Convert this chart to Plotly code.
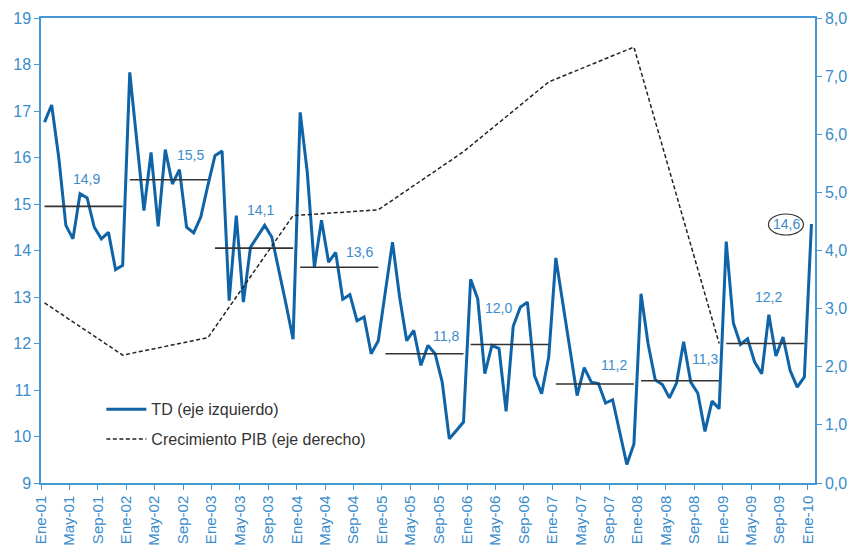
import plotly.graph_objects as go

# ---------------- data ----------------
# Monthly unemployment rate (TD), Ene-01 .. Ene-10
td = [16.76, 17.13, 16.0, 14.54, 14.25, 15.22, 15.13, 14.50, 14.25, 14.39, 13.59, 13.68,
      17.83, 16.3, 14.86, 16.11, 14.52, 16.17, 15.43, 15.74, 14.50, 14.38, 14.72, 15.40,
      16.04, 16.14, 12.92, 14.75, 12.89, 14.07, 14.32, 14.54, 14.29, 13.6, 12.85, 12.09,
      16.97, 15.68, 13.64, 14.65, 13.75, 13.96, 12.95, 13.05, 12.49, 12.57, 11.78, 12.06,
      13.12, 14.18, 13.0, 12.06, 12.28, 11.53, 11.96, 11.78, 11.17, 9.95, 10.13, 10.31,
      13.38, 12.96, 11.35, 11.96, 11.89, 10.54, 12.37, 12.78, 12.89, 11.31, 10.92, 11.71,
      13.84, 12.85, 11.85, 10.88, 11.48, 11.17, 11.14, 10.72, 10.79, 10.06, 9.40, 9.84,
      13.07, 11.99, 11.22, 11.12, 10.83, 11.15, 12.04, 11.17, 10.93, 10.11, 10.76, 10.60,
      14.19, 12.44, 11.98, 12.10, 11.60, 11.35, 12.62, 11.73, 12.14, 11.42, 11.06, 11.28,
      14.57]

# Annual GDP growth (right axis), plotted at month index
gdp_month = [0, 11, 23, 35, 47, 59, 71, 83, 95]
gdp = [3.1, 2.2, 2.5, 4.6, 4.7, 5.7, 6.9, 7.5, 2.4]

# Yearly average of TD (horizontal bars) and their labels
avg_years = [2001, 2002, 2003, 2004, 2005, 2006, 2007, 2008, 2009]
avg_td = [14.95, 15.52, 14.05, 13.64, 11.78, 11.98, 11.13, 11.20, 12.00]
avg_labels = ["14,9", "15,5", "14,1", "13,6", "11,8", "12,0", "11,2", "11,3", "12,2"]
last_label = "14,6"

tick_labels = ["Ene-01", "May-01", "Sep-01", "Ene-02", "May-02", "Sep-02", "Ene-03", "May-03",
               "Sep-03", "Ene-04", "May-04", "Sep-04", "Ene-05", "May-05", "Sep-05", "Ene-06",
               "May-06", "Sep-06", "Ene-07", "May-07", "Sep-07", "Ene-08", "May-08", "Sep-08",
               "Ene-09", "May-09", "Sep-09", "Ene-10"]

# ---------------- styles ----------------
BLUE_LINE = "#0f64a8"
BLUE_AX = "#4598d4"
BLUE_TXT = "#3a8ccb"
FONT = "Liberation Sans"

# label pixel offsets relative to the centre of each average bar (style only)
lab_xshift = [3, 22, 6, 20, 22, -11, 19, 25, 3]
lab_yshift = [27, 25, 38, 15, 18, 36, 19, 22, 47]

x_td = [i + 0.5 for i in range(len(td))]
x_gdp = [m + 0.5 for m in gdp_month]

fig = go.Figure()

fig.add_trace(go.Scatter(
    x=x_td, y=td, mode="lines", name="TD (eje izquierdo)",
    line=dict(color=BLUE_LINE, width=3), legendgroup="a"))

fig.add_trace(go.Scatter(
    x=x_gdp, y=gdp, mode="lines", name="Crecimiento PIB (eje derecho)",
    yaxis="y2", line=dict(color="#222222", width=1.5, dash="4px,2.5px"), legendgroup="b"))

for k, (yr, v) in enumerate(zip(avg_years, avg_td)):
    start = (yr - 2001) * 12
    fig.add_trace(go.Scatter(
        x=[start + 0.5, start + 11.5], y=[v, v], mode="lines",
        line=dict(color="#333333", width=1.6), showlegend=False, hoverinfo="skip"))
    fig.add_annotation(
        x=start + 6, y=v, text=avg_labels[k], showarrow=False,
        xshift=lab_xshift[k], yshift=lab_yshift[k],
        font=dict(family=FONT, size=14, color=BLUE_TXT))

# circled last value
fig.add_annotation(
    x=x_td[-1], y=td[-1], text=last_label, showarrow=False, xshift=-25,
    font=dict(family=FONT, size=14, color=BLUE_TXT))
fig.add_shape(
    type="circle", xref="x", yref="y", xsizemode="pixel", ysizemode="pixel",
    xanchor=x_td[-1], yanchor=td[-1], x0=-43, x1=-8, y0=-11, y1=10,
    line=dict(color="#333333", width=1.2))

tickvals = [i * 4 for i in range(len(tick_labels))]

fig.update_layout(
    width=854, height=548,
    margin=dict(l=41, r=39, t=18, b=65),
    paper_bgcolor="white", plot_bgcolor="white",
    separators=",.",
    showlegend=True,
    legend=dict(x=0.078, y=0.195, xanchor="left", yanchor="top",
                font=dict(family=FONT, size=16, color="#333333"),
                bgcolor="rgba(0,0,0,0)", tracegroupgap=6, itemwidth=40),
    xaxis=dict(range=[0, 109], tickvals=tickvals, ticktext=tick_labels, tickangle=-90,
               showgrid=False, zeroline=False, showline=True, mirror=True, automargin=False,
               linecolor=BLUE_AX, linewidth=1.5, ticks="outside", ticklen=5,
               tickcolor=BLUE_AX, tickfont=dict(family=FONT, size=15, color=BLUE_TXT)),
    yaxis=dict(range=[9, 19], dtick=1, showgrid=False, zeroline=False, showline=True,
               automargin=False,
               linecolor=BLUE_AX, linewidth=1.5, ticks="outside", ticklen=5,
               tickcolor=BLUE_AX, tickfont=dict(family=FONT, size=16, color=BLUE_TXT)),
    yaxis2=dict(range=[0, 8], dtick=1, tickformat=".1f", overlaying="y", side="right",
                showgrid=False, zeroline=False, showline=True, automargin=False,
                linecolor=BLUE_AX, linewidth=1.5, ticks="outside", ticklen=5,
                tickcolor=BLUE_AX, tickfont=dict(family=FONT, size=16, color=BLUE_TXT)),
)

# remove the default 8px page margin so the figure fills the window exactly
fig.write_html("out.html",
               config={"displayModeBar": False},
               post_script="document.body.style.margin='0px';document.body.style.overflow='hidden';")
